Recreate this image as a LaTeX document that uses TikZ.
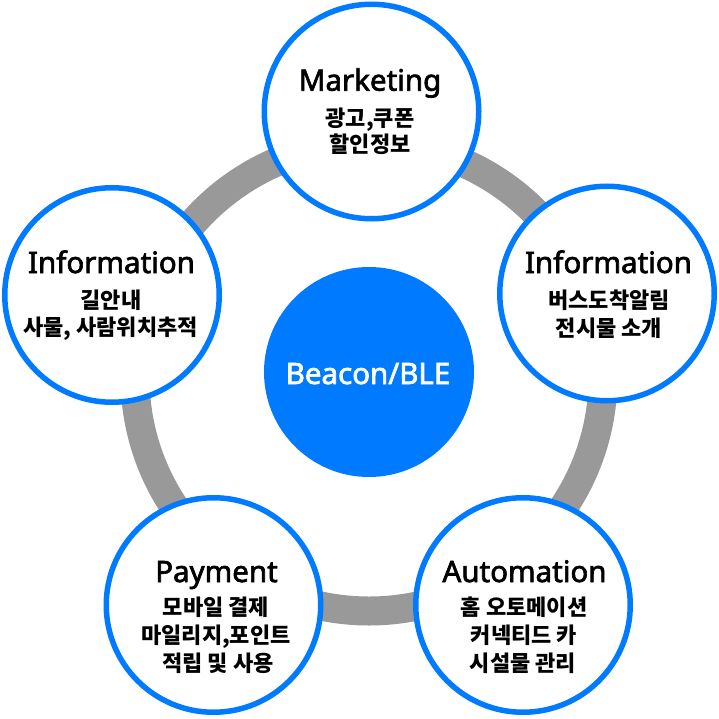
\documentclass[tikz,border=0pt]{standalone}
\usepackage{fontspec}
\setmainfont{Noto Sans}
\newfontfamily\titlefont{Noto Sans}[BoldFont={Noto Sans},BoldFeatures={FakeBold=2.2}]
\newfontfamily\krfont{Noto Sans CJK KR}
\definecolor{ringblue}{RGB}{0,123,255}
\definecolor{ringgray}{RGB}{153,153,153}
\begin{document}
\begin{tikzpicture}[x=1pt,y=-1pt,
  bubble/.style={circle,draw=ringblue,line width=5.5pt,fill=white,minimum size=214.5pt,inner sep=0pt},
  core/.style={circle,fill=ringblue,minimum size=210pt,inner sep=0pt},
  title/.style={anchor=base,inner sep=0pt,font=\titlefont\bfseries\fontsize{29.5}{32}\selectfont},
  body/.style={anchor=base,inner sep=0pt,font=\krfont\bfseries\fontsize{22}{26}\selectfont}]
\useasboundingbox (0,0) rectangle (719,719);
\fill[white] (0,0) rectangle (719,719);
\coordinate (hub) at (369,377);
\draw[ringgray,line width=29pt] (hub) circle[radius=234pt];
% bubbles
\node[bubble] (mk) at (371.5,111.5) {};
\node[bubble] (infL) at (112,295) {};
\node[bubble] (infR) at (607,293.5) {};
\node[bubble] (auto) at (523,605) {};
\node[bubble] (pay) at (213.5,605) {};
\node[core] (bea) at (369,372) {};
% texts
\node[title,text=white] (beat) at (368,384) {Beacon/BLE};
\node[title] (mkt) at (370,90.7) {Marketing};
\node[body] (mk1) at (370,126.5) {광고,쿠폰};
\node[body] (mk2) at (370,152.5) {할인정보};
\node[title] (infLt) at (111.5,273) {Information};
\node[body] (infL1) at (111,308.5) {길안내};
\node[body] (infL2) at (110.5,335) {사물, 사람위치추적};
\node[title] (infRt) at (608.5,273) {Information};
\node[body] (infR1) at (609,308.5) {버스도착알림};
\node[body] (infR2) at (609,336) {전시물 소개};
\node[title] (autot) at (524.5,582) {Automation};
\node[body] (auto1) at (524,615.5) {홈 오토메이션};
\node[body] (auto2) at (524,643.5) {커넥티드 카};
\node[body] (auto3) at (523,671.5) {시설물 관리};
\node[title] (payt) at (216.5,582) {Payment};
\node[body] (pay1) at (216,615.5) {모바일 결제};
\node[body] (pay2) at (216,643.5) {마일리지,포인트};
\node[body] (pay3) at (218,671.5) {적립 및 사용};
\end{tikzpicture}
\end{document}
